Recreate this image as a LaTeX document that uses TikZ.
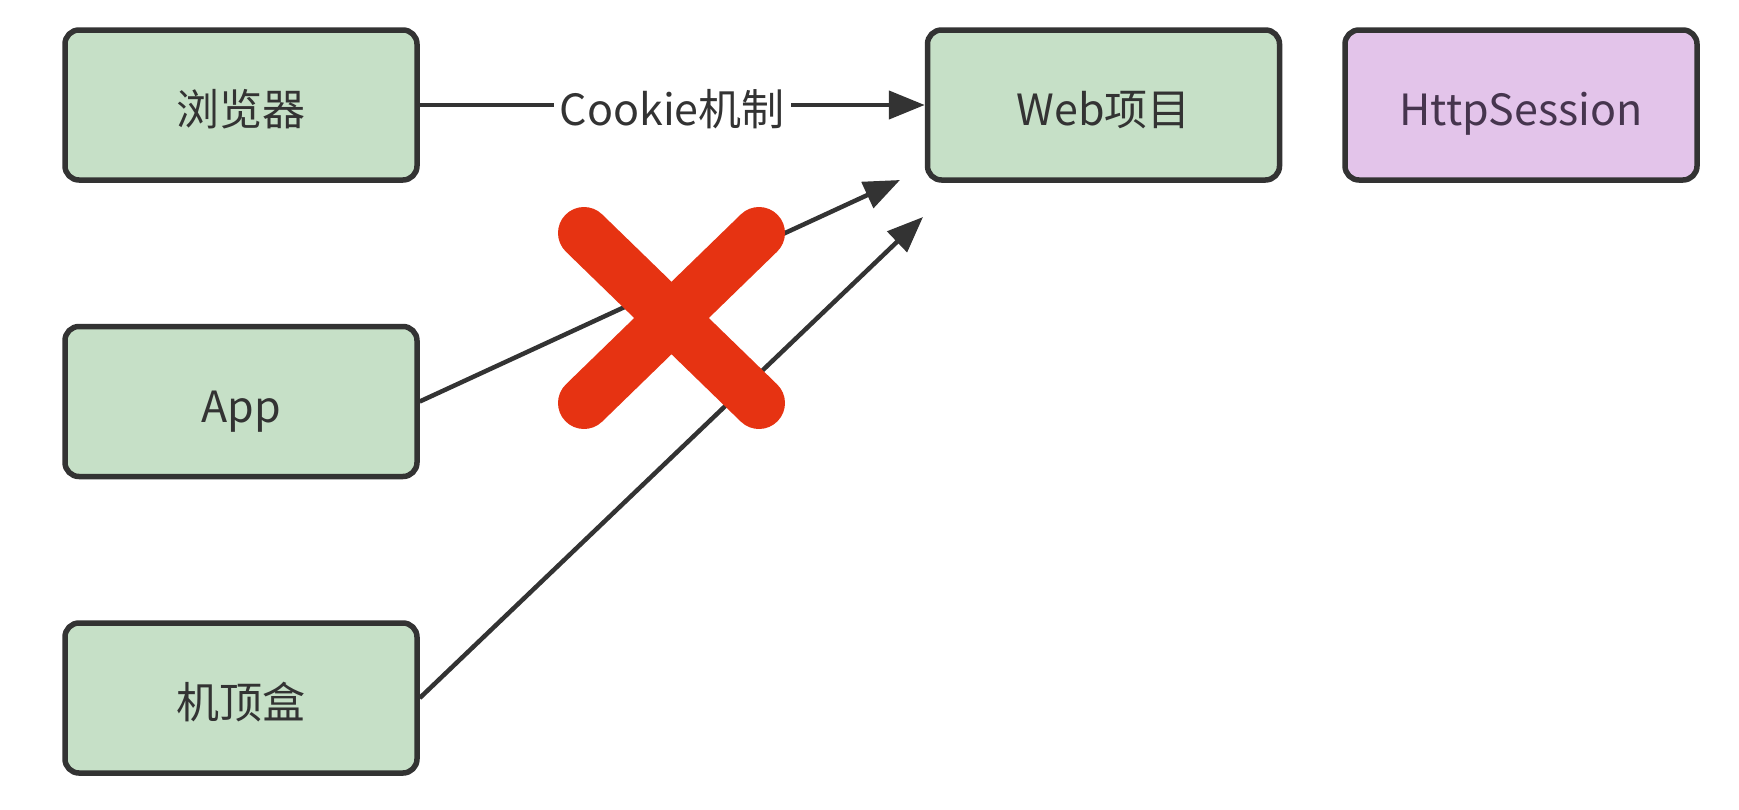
\documentclass[tikz,border=0pt]{standalone}
\usepackage{fontspec}
\setmainfont{Noto Sans CJK SC}
\usepackage{xcolor}
\usetikzlibrary{arrows.meta,positioning}

\definecolor{boxgreen}{HTML}{C6E0C7}
\definecolor{boxpurple}{HTML}{E3C4EA}
\definecolor{edgegray}{HTML}{333333}
\definecolor{sessiontext}{HTML}{46354E}
\definecolor{crossred}{HTML}{E63312}

\begin{document}
\begin{tikzpicture}[node distance=141pt, >={Triangle[length=36pt,width=28pt]},
    box/.style={rectangle, draw=edgegray, line width=5.5pt, rounded corners=14pt, minimum width=352pt, minimum height=150pt, font=\fontsize{43}{50}\selectfont, text=edgegray, text height=44pt, text depth=3pt},
    client/.style={box, fill=boxgreen},
    session/.style={box, fill=boxpurple, text=sessiontext},
    link/.style={->, line width=4.5pt, draw=edgegray}]
    \useasboundingbox (0,0) rectangle (1739pt,-809pt);

    \node [client] (browser) at (241pt,-105pt) {浏览器};
    \node [client, below=of browser] (app) {App};
    \node [client, below=of app] (stb) {机顶盒};
    \node [client, right=505pt of browser] (web) {Web项目};
    \node [session, right=60pt of web] (session) {HttpSession};

    % free ends just below the Web box
    \coordinate (apptip) at (900pt,-180pt);
    \coordinate (stbtip) at (923pt,-217pt);

    \draw [link] (browser) -- node [fill=white, inner xsep=6pt, inner ysep=2pt, text=edgegray, font=\fontsize{43}{50}\selectfont, text height=44pt, text depth=3pt] (cookie) {Cookie机制} (web);
    \draw [link] (app.east) -- (apptip);
    \draw [link] (stb.east) -- (stbtip);

    % red cross over the app request
    \coordinate (cross) at (671.5pt,-318pt);
    \draw [crossred, line width=52pt, line cap=round] (cross) ++(-87.5pt,85pt) -- ++(175pt,-170pt);
    \draw [crossred, line width=52pt, line cap=round] (cross) ++(87.5pt,85pt) -- ++(-175pt,-170pt);
\end{tikzpicture}
\end{document}
